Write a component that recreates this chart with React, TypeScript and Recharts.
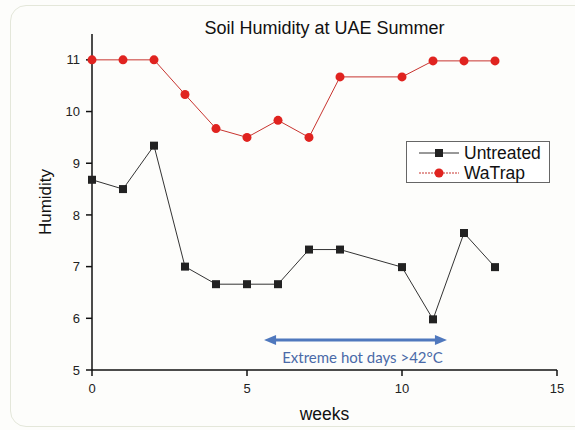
import { LineChart, Line, XAxis, YAxis, Legend, ReferenceLine } from 'recharts'

const weeks = [0, 1, 2, 3, 4, 5, 6, 7, 8, 10, 11, 12, 13]
const untreated = [8.68, 8.5, 9.34, 7.0, 6.66, 6.66, 6.66, 7.33, 7.33, 6.99, 5.98, 7.65, 6.99]
const watrap = [11, 11, 11, 10.33, 9.67, 9.5, 9.83, 9.5, 10.67, 10.67, 10.98, 10.98, 10.98]

const xMajor = [0, 5, 10, 15]
const xMinor = [2.5, 7.5, 12.5]
const yMajor = [5, 6, 7, 8, 9, 10, 11]
const yMinor = [5.5, 6.5, 7.5, 8.5, 9.5, 10.5, 11.5]

// hot period arrow, in data units
const hotStart = 5.55
const hotEnd = 11.45
const hotLevel = 5.58
const hotText = 'Extreme hot days >42°C'

const data = weeks.map((w, i) => ({ week: w, untreated: untreated[i], watrap: watrap[i] }))

const FONT = '"Liberation Sans", Arial, sans-serif'
const BLUE = '#4f78bd'

function SquareDot(props: any) {
  const { cx, cy, index } = props
  if (cx == null || cy == null) return null
  return <rect key={index} x={cx - 4} y={cy - 4} width={8} height={8} fill="#222" />
}

function CircleDot(props: any) {
  const { cx, cy, index } = props
  if (cx == null || cy == null) return null
  return <circle key={index} cx={cx} cy={cy} r={4.5} fill="#e0231f" />
}

function HotArrow(props: any) {
  const { x1, y1, x2 } = props
  if (x1 == null) return null
  const head = 12
  const half = 5
  return (
    <g>
      <line x1={x1 + head - 2} y1={y1} x2={x2 - head + 2} y2={y1} stroke={BLUE} strokeWidth={3} />
      <polygon points={`${x1},${y1} ${x1 + head},${y1 - half} ${x1 + head},${y1 + half}`} fill={BLUE} />
      <polygon points={`${x2},${y1} ${x2 - head},${y1 - half} ${x2 - head},${y1 + half}`} fill={BLUE} />
      <text
        x={(x1 + x2) / 2 + 7}
        y={y1 + 17}
        textAnchor="middle"
        dominantBaseline="central"
        fontFamily="Lato, 'Open Sans', sans-serif"
        fontSize={15}
        fill="#4a6aa8"
      >
        {hotText}
      </text>
    </g>
  )
}

function LegendBox() {
  const rows = [
    { name: 'Untreated', color: '#222', line: '#333', dash: undefined as string | undefined, square: true },
    { name: 'WaTrap', color: '#e0231f', line: '#c8342f', dash: '2 1', square: false },
  ]
  return (
    <div
      style={{
        border: '1px solid #666',
        background: '#fff',
        width: 144,
        height: 42,
        boxSizing: 'border-box',
        padding: '1px 0 0 10px',
        fontFamily: FONT,
        fontSize: 17.5,
        color: '#111',
        lineHeight: '20px',
      }}
    >
      {rows.map((r) => (
        <div key={r.name} style={{ display: 'flex', alignItems: 'center', height: 20 }}>
          <svg width={44} height={12} style={{ marginRight: 3 }}>
            <line x1={2} y1={6} x2={42} y2={6} stroke={r.line} strokeWidth={1} strokeDasharray={r.dash} />
            {r.square ? (
              <rect x={18} y={2} width={8} height={8} fill={r.color} />
            ) : (
              <circle cx={22} cy={6} r={4.5} fill={r.color} />
            )}
          </svg>
          <span>{r.name}</span>
        </div>
      ))}
    </div>
  )
}

export default function App() {
  return (
    <div
      style={{
        position: 'absolute',
        left: 0,
        top: 0,
        width: 575,
        height: 430,
        background: '#fdfdfb',
        overflow: 'hidden',
        fontFamily: FONT,
      }}
    >
      <div
        style={{
          position: 'absolute',
          left: 10,
          top: 5,
          width: 620,
          height: 420,
          border: '1px solid #e4e7da',
          borderRadius: 16,
        }}
      />
      <div
        style={{
          position: 'absolute',
          left: 92,
          width: 465,
          top: 18,
          textAlign: 'center',
          fontSize: 18,
          color: '#111',
          lineHeight: '21px',
        }}
      >
        Soil Humidity at UAE Summer
      </div>
      <div style={{ position: 'absolute', left: 0, top: 0 }}>
        <LineChart
          width={575}
          height={430}
          data={data}
          margin={{ top: 34, right: 18, bottom: 0, left: 40 }}
          style={{ fontFamily: FONT }}
        >
          <XAxis
            xAxisId="minor"
            dataKey="week"
            type="number"
            domain={[0, 15]}
            ticks={xMinor}
            height={0}
            axisLine={false}
            tickSize={4}
            tickLine={{ stroke: '#111', strokeWidth: 1.2 }}
            tickFormatter={() => ''}
          />
          <XAxis
            dataKey="week"
            type="number"
            domain={[0, 15]}
            ticks={xMajor}
            height={60}
            axisLine={{ stroke: '#111', strokeWidth: 1.5 }}
            tickLine={{ stroke: '#111', strokeWidth: 1.5 }}
            tickSize={6}
            tickMargin={8}
            tick={{ fontSize: 13, fill: '#222' }}
            label={{ value: 'weeks', position: 'insideBottom', offset: 10, fontSize: 17.5, fill: '#111' }}
          />
          <YAxis
            yAxisId="minor"
            type="number"
            domain={[5, 11.5]}
            ticks={yMinor}
            width={0}
            axisLine={false}
            tickSize={4}
            tickLine={{ stroke: '#111', strokeWidth: 1.2 }}
            tickFormatter={() => ''}
          />
          <YAxis
            type="number"
            domain={[5, 11.5]}
            ticks={yMajor}
            width={52}
            axisLine={{ stroke: '#111', strokeWidth: 1.5 }}
            tickLine={{ stroke: '#111', strokeWidth: 1.5 }}
            tickSize={6}
            tickMargin={6}
            tick={{ fontSize: 13, fill: '#222' }}
            label={{
              content: (p: any) => {
                const vb = p.viewBox || {}
                const cx = vb.x + 5
                const cy = vb.y + vb.height / 2
                return (
                  <text
                    x={cx}
                    y={cy}
                    transform={`rotate(-90 ${cx} ${cy})`}
                    textAnchor="middle"
                    dominantBaseline="central"
                    fontSize={17}
                    fill="#111"
                  >
                    Humidity
                  </text>
                )
              },
            }}
          />
          <ReferenceLine
            segment={[
              { x: hotStart, y: hotLevel },
              { x: hotEnd, y: hotLevel },
            ]}
            shape={HotArrow}
            ifOverflow="visible"
          />
          <Line
            dataKey="untreated"
            name="Untreated"
            stroke="#333"
            strokeWidth={1}
            dot={SquareDot}
            activeDot={false}
            isAnimationActive={false}
          />
          <Line
            dataKey="watrap"
            name="WaTrap"
            stroke="#c8342f"
            strokeWidth={1}
            dot={CircleDot}
            activeDot={false}
            isAnimationActive={false}
          />
          <Legend
            layout="vertical"
            align="center"
            verticalAlign="middle"
            content={() => <LegendBox />}
            wrapperStyle={{ position: 'absolute', left: 406, top: 141, width: 144, height: 42 }}
          />
        </LineChart>
      </div>
    </div>
  )
}
